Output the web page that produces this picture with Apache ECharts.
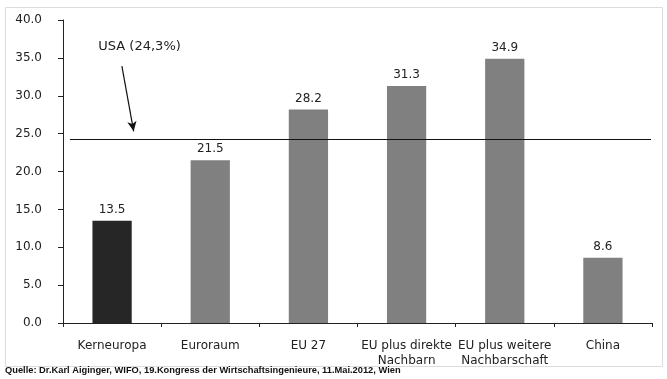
<!DOCTYPE html>
<html><head><meta charset="utf-8">
<script src="https://cdn.jsdelivr.net/npm/echarts@6/dist/echarts.min.js"></script>
<style>html,body{margin:0;padding:0;background:#fff}#c{width:667px;height:379px}</style>
</head><body><div id="c"></div>
<script>
const categories = ['Kerneuropa', 'Euroraum', 'EU 27', 'EU plus direkte\nNachbarn', 'EU plus weitere\nNachbarschaft', 'China'];
const values = [13.5, 21.5, 28.2, 31.3, 34.9, 8.6];
const barColors = ['#262626', '#808080', '#808080', '#808080', '#808080', '#808080'];
const usaValue = 24.3;
const usaLabel = 'USA (24,3%)';
const arrowStart = [0.60, 33.9];
const arrowEnd = [0.72, 25.3];
const usaLabelPos = [0.78, 36.5];
const sourceText = 'Quelle: Dr.Karl Aiginger, WIFO, 19.Kongress der Wirtschaftsingenieure, 11.Mai.2012, Wien';

const font = 'DejaVu Sans';
const chart = echarts.init(document.getElementById('c'));
chart.setOption({
  animation: false,
  textStyle: { fontFamily: font },
  graphic: [
    { type: 'rect', shape: { x: 5.5, y: 7.5, width: 657, height: 359 }, style: { fill: 'none', stroke: '#dcdcdc', lineWidth: 1 }, z: -1 },
    { type: 'text', left: 5, top: 366, style: { text: sourceText, font: 'bold 9.3px "Liberation Sans"', fill: '#111' } }
  ],
  grid: { left: 63, right: 15, top: 20, bottom: 56 },
  xAxis: [
    {
      type: 'category', data: categories,
      axisLine: { lineStyle: { color: '#222', width: 1 } },
      axisTick: { show: true, length: 4, lineStyle: { color: '#222' } },
      axisLabel: { color: '#222', fontSize: 12, margin: 15, lineHeight: 15, fontFamily: font, interval: 0 }
    },
    { type: 'value', min: 0, max: 6, show: false }
  ],
  yAxis: {
    type: 'value', min: 0, max: 40, interval: 5,
    axisLine: { show: true, lineStyle: { color: '#222' } },
    axisTick: { show: true, length: 5, lineStyle: { color: '#222' } },
    splitLine: { show: false },
    axisLabel: { color: '#222', fontSize: 12, margin: 21, fontFamily: font, formatter: v => v.toFixed(1) }
  },
  series: [
    {
      type: 'bar', barWidth: '40%',
      data: values.map((v, i) => ({ value: v, itemStyle: { color: barColors[i] } })),
      label: { show: true, position: 'top', color: '#222', fontSize: 12, distance: 5, fontFamily: font, formatter: p => p.value.toFixed(1) },
      z: 2
    },
    {
      type: 'scatter', xAxisIndex: 1, data: [], z: 5,
      markLine: {
        silent: true, animation: false,
        label: { show: false },
        data: [
          [{ coord: [0.07, usaValue], symbol: 'none' }, { coord: [5.99, usaValue], symbol: 'none' }],
          [{ coord: arrowStart, symbol: 'none' }, { coord: arrowEnd, symbol: 'arrow', symbolSize: [7, 10] }]
        ],
        lineStyle: { color: '#111', width: 1.2, type: 'solid' }
      },
      markPoint: {
        symbol: 'circle', symbolSize: 0, silent: true,
        data: [{ coord: usaLabelPos, value: usaLabel }],
        label: { show: true, position: 'inside', color: '#222', fontSize: 13, fontFamily: font, formatter: usaLabel }
      }
    }
  ]
});
</script></body></html>
